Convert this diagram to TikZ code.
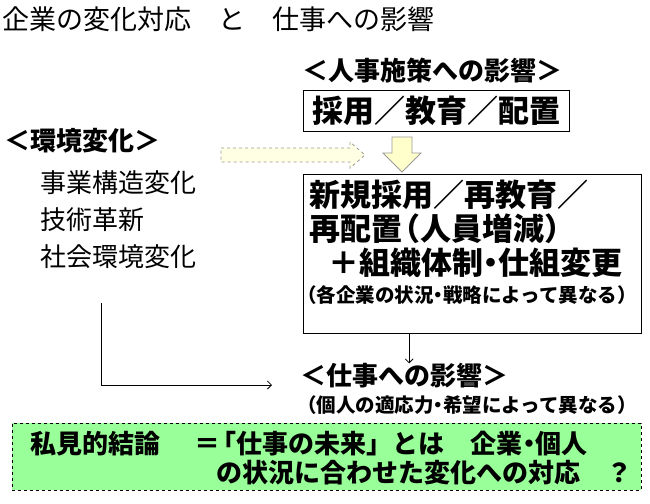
\documentclass[tikz,border=0pt]{standalone}
\usepackage{fontspec}
\setmainfont{Noto Sans CJK JP}
\usetikzlibrary{positioning, arrows.meta}
\definecolor{arrowfill}{RGB}{255,255,204}
\definecolor{pathfill}{RGB}{255,255,228}
\definecolor{conclfill}{RGB}{153,255,153}
\newcommand{\pdot}{\kern-.25em・\kern-.25em}

\begin{document}
\begin{tikzpicture}[x=1pt, y=-1pt,
  every node/.style={inner sep=0pt, anchor=west},
  titletext/.style={font=\fontsize{27}{32}\selectfont},
  headtext/.style={font=\fontsize{26}{31}\selectfont\bfseries},
  itemtext/.style={font=\fontsize{26}{31}\selectfont},
  boxtext/.style={font=\fontsize{31}{37}\selectfont\bfseries},
  notetext/.style={font=\fontsize{19.5}{23}\selectfont\bfseries},
  concltext/.style={font=\fontsize{26}{31}\selectfont\bfseries},
  hrbox/.style={draw, line width=1.2pt, anchor=north west},
  thinarr/.style={-{Straight Barb[length=4pt,width=8pt]}, line width=0.8pt},
  blockarr/.style={draw=gray!80, line width=0.8pt, fill=arrowfill}
]

% ---- frame ----
\useasboundingbox (0,0) rectangle (650,503);
\fill[white] (0,0) rectangle (650,503);

% ---- title ----
\node[titletext] (title) at (2,19) {企業の変化対応　と　仕事への影響};

% ---- environment changes (left column) ----
\node[headtext] (envhead) at (4,141) {＜環境変化＞};
\node[itemtext] (env1) at (40,183) {事業構造変化};
\node[itemtext] (env2) at (40,220) {技術革新};
\node[itemtext] (env3) at (40,257) {社会環境変化};

% ---- HR measures ----
\node[headtext] (hrhead) at (302,71) {＜人事施策への影響＞};
\node[hrbox, boxtext, minimum width=266, minimum height=41] (hire) at (303,90) {採用／教育／配置};

\node[hrbox, minimum width=338, minimum height=159] (plan) at (303,174) {};
\node[boxtext] (plan1) at (309,195) {新規採用／再教育／};
\node[boxtext] (plan2) at (309,229) {再配置\kern-.4em（人員増減）};
\node[boxtext] (plan3) at (328,263) {＋組織体制\pdot 仕組変更};
\node[notetext] (plan4) at (297,295) {（各企業の状況\pdot 戦略によって異なる）};

% ---- block arrows ----
\draw[blockarr, dashed, fill=pathfill]
  (221,148) -- (350,148) -- (350,142) -- (365,155) -- (350,168) -- (350,162) -- (221,162) -- cycle;
\draw[blockarr]
  (392,137) -- (412,137) -- (412,153) -- (421,153) -- (402,172) -- (383,153) -- (392,153) -- cycle;

% ---- impact on jobs ----
\node[headtext] (job) at (300,376) {＜仕事への影響＞};
\node[notetext] (jobnote) at (297,405) {（個人の適応力\pdot 希望によって異なる）};

\draw[thinarr] ([xshift=5pt]job.north |- plan.south) -- ([xshift=5pt]job.north);
\coordinate (lstart) at (101,303);
\draw[thinarr, shorten >=28pt] (lstart) |- ([yshift=-9pt]job.west);

% ---- conclusion ----
\node[draw, dashed, fill=conclfill, line width=0.8pt, anchor=north west,
      minimum width=629, minimum height=67] (concl) at (12,423) {};
\node[concltext] (concl1) at (30,444) {私見的結論　\kern.3em＝\kern-.35em「仕事の未来」とは　企業\pdot 個人};
\node[concltext] (concl2) at (216,473) {の状況に合わせた変化への対応　？};

\end{tikzpicture}
\end{document}
